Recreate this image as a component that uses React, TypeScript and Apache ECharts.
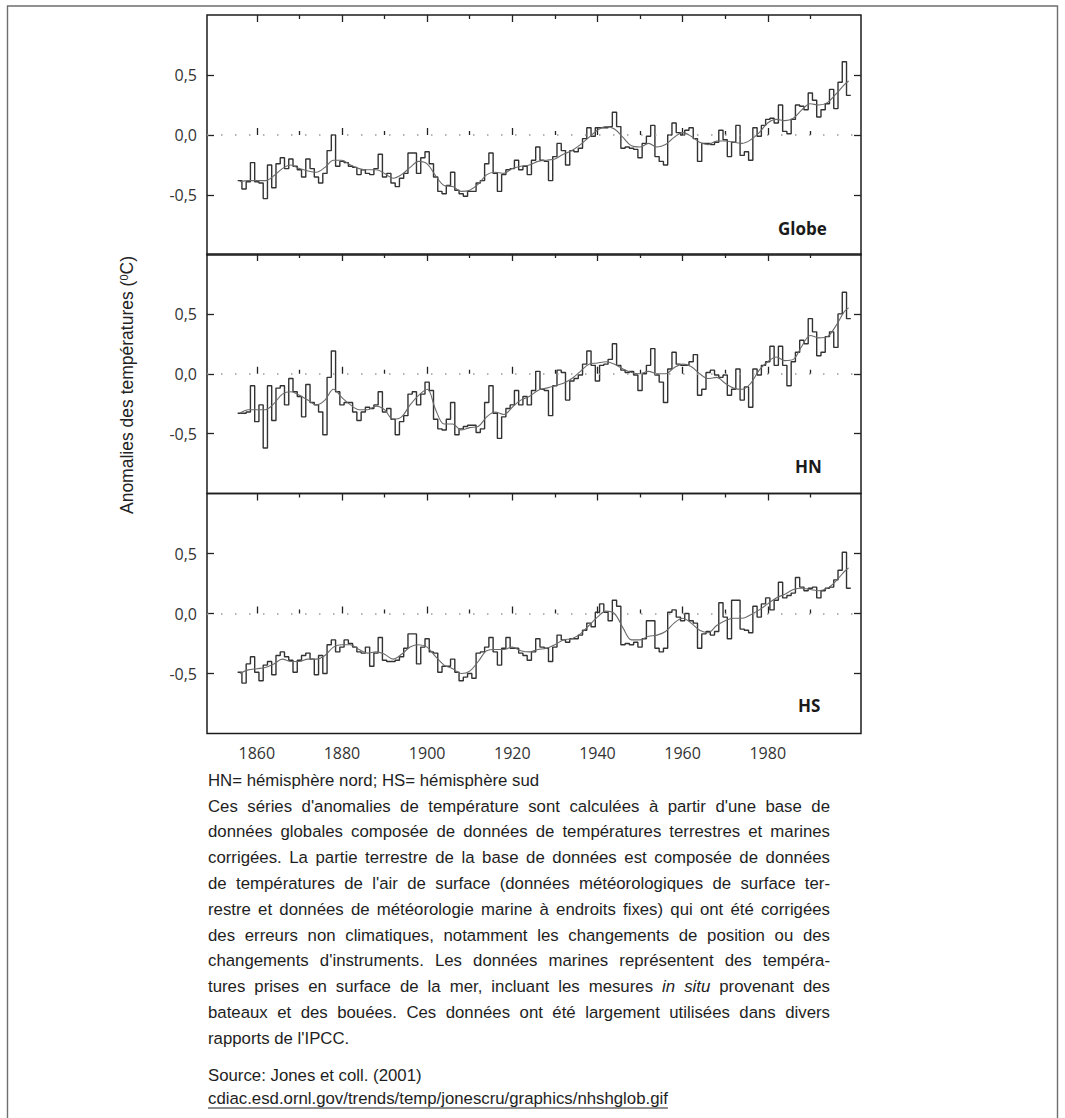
import React, { useEffect, useRef } from "react";
import * as echarts from "echarts";

// ---------- DATA ----------
const FIRST_YEAR = 1856;

const globeAnnual = [
  -0.38, -0.45, -0.39, -0.23, -0.39, -0.40, -0.53, -0.25, -0.44, -0.24,
  -0.19, -0.28, -0.20, -0.26, -0.29, -0.35, -0.20, -0.28, -0.35, -0.40,
  -0.32, -0.13, 0.00, -0.26, -0.22, -0.23, -0.26, -0.27, -0.33, -0.29,
  -0.32, -0.33, -0.28, -0.16, -0.35, -0.32, -0.40, -0.43, -0.36, -0.32,
  -0.15, -0.15, -0.32, -0.19, -0.14, -0.24, -0.35, -0.47, -0.49, -0.42,
  -0.31, -0.46, -0.49, -0.51, -0.47, -0.47, -0.40, -0.38, -0.24, -0.15,
  -0.32, -0.47, -0.33, -0.29, -0.28, -0.21, -0.29, -0.26, -0.33, -0.21,
  -0.10, -0.21, -0.22, -0.38, -0.18, -0.07, -0.13, -0.25, -0.13, -0.14,
  -0.11, -0.03, 0.06, -0.01, 0.06, 0.06, 0.06, 0.07, 0.19, 0.07,
  -0.11, -0.10, -0.11, -0.12, -0.19, -0.07, -0.01, 0.08, -0.18, -0.22,
  -0.25, 0.00, 0.10, 0.02, 0.00, 0.04, 0.06, -0.03, -0.22, -0.07,
  -0.07, -0.08, -0.06, 0.04, -0.04, -0.18, -0.06, 0.08, -0.17, -0.14,
  -0.21, 0.06, -0.01, 0.08, 0.13, 0.14, 0.10, 0.25, 0.03, 0.01,
  0.13, 0.25, 0.24, 0.21, 0.35, 0.29, 0.15, 0.21, 0.26, 0.38,
  0.22, 0.44, 0.61, 0.33,
];

const nhAnnual = [
  -0.33, -0.33, -0.32, -0.10, -0.40, -0.26, -0.62, -0.10, -0.39, -0.12,
  -0.10, -0.26, -0.04, -0.15, -0.19, -0.36, -0.09, -0.24, -0.26, -0.32,
  -0.51, -0.03, 0.19, -0.15, -0.26, -0.24, -0.24, -0.32, -0.39, -0.32,
  -0.28, -0.29, -0.26, -0.15, -0.32, -0.29, -0.38, -0.51, -0.40, -0.35,
  -0.17, -0.15, -0.26, -0.17, -0.07, -0.14, -0.38, -0.46, -0.47, -0.38,
  -0.24, -0.51, -0.46, -0.44, -0.43, -0.43, -0.49, -0.46, -0.24, -0.10,
  -0.33, -0.54, -0.36, -0.29, -0.26, -0.14, -0.26, -0.19, -0.26, -0.14,
  0.02, -0.13, -0.14, -0.35, -0.10, 0.03, 0.01, -0.22, -0.06, -0.04,
  -0.01, 0.08, 0.19, 0.07, -0.06, 0.07, 0.08, 0.12, 0.25, 0.07,
  0.03, 0.01, 0.02, -0.01, -0.14, 0.00, 0.07, 0.21, -0.01, -0.07,
  -0.24, 0.04, 0.18, 0.08, 0.07, 0.07, 0.10, 0.16, -0.18, -0.13,
  0.01, 0.03, -0.01, -0.03, -0.01, -0.18, -0.13, 0.04, -0.22, -0.11,
  -0.28, 0.04, -0.01, 0.07, 0.10, 0.23, 0.07, 0.23, 0.07, -0.10,
  0.10, 0.18, 0.28, 0.25, 0.46, 0.35, 0.15, 0.18, 0.31, 0.35,
  0.22, 0.50, 0.68, 0.46,
];

const shAnnual = [
  -0.49, -0.58, -0.42, -0.36, -0.49, -0.56, -0.43, -0.40, -0.51, -0.35,
  -0.32, -0.36, -0.39, -0.49, -0.39, -0.35, -0.33, -0.38, -0.51, -0.35,
  -0.50, -0.26, -0.22, -0.32, -0.28, -0.22, -0.25, -0.28, -0.32, -0.33,
  -0.28, -0.44, -0.33, -0.20, -0.39, -0.40, -0.40, -0.39, -0.36, -0.29,
  -0.17, -0.17, -0.42, -0.28, -0.21, -0.32, -0.33, -0.49, -0.44, -0.44,
  -0.38, -0.49, -0.56, -0.53, -0.50, -0.54, -0.33, -0.32, -0.28, -0.20,
  -0.32, -0.43, -0.29, -0.20, -0.29, -0.29, -0.33, -0.35, -0.39, -0.32,
  -0.21, -0.28, -0.29, -0.40, -0.28, -0.18, -0.22, -0.24, -0.21, -0.21,
  -0.18, -0.14, -0.08, -0.11, 0.01, 0.08, 0.01, -0.06, 0.11, 0.06,
  -0.26, -0.25, -0.26, -0.24, -0.28, -0.21, -0.06, -0.06, -0.29, -0.32,
  -0.29, 0.01, 0.03, -0.03, -0.06, 0.00, -0.06, -0.08, -0.29, -0.17,
  -0.15, -0.18, -0.15, 0.09, -0.03, -0.21, 0.11, 0.11, -0.13, -0.14,
  -0.16, 0.06, -0.03, 0.08, 0.13, 0.03, 0.11, 0.26, 0.13, 0.15,
  0.17, 0.30, 0.22, 0.19, 0.21, 0.22, 0.13, 0.19, 0.21, 0.22,
  0.28, 0.36, 0.51, 0.21,
];

// smoothed curves, read every second year (1856..1998) plus 1999
const SMOOTH_LAST_YEAR = 1999;
const globeSmooth = [
  -0.39, -0.38, -0.38, -0.38, -0.34, -0.28, -0.25, -0.28, -0.30, -0.31,
  -0.27, -0.21, -0.21, -0.25, -0.28, -0.29, -0.29, -0.32, -0.36, -0.33,
  -0.27, -0.22, -0.24, -0.34, -0.42, -0.43, -0.47, -0.46, -0.41, -0.33,
  -0.31, -0.32, -0.28, -0.26, -0.25, -0.22, -0.21, -0.20, -0.16, -0.13,
  -0.08, -0.02, 0.04, 0.07, 0.05, -0.02, -0.09, -0.10, -0.07, -0.10,
  -0.08, -0.02, 0.02, -0.01, -0.06, -0.08, -0.05, -0.05, -0.06, -0.07,
  -0.04, 0.02, 0.10, 0.13, 0.12, 0.14, 0.21, 0.26, 0.25, 0.27,
  0.34, 0.42, 0.45,
];
const nhSmooth = [
  -0.33, -0.30, -0.30, -0.30, -0.25, -0.17, -0.15, -0.18, -0.22, -0.26,
  -0.22, -0.13, -0.20, -0.26, -0.30, -0.30, -0.27, -0.30, -0.38, -0.36,
  -0.26, -0.18, -0.13, -0.30, -0.42, -0.42, -0.47, -0.45, -0.44, -0.36,
  -0.32, -0.34, -0.28, -0.22, -0.19, -0.14, -0.12, -0.10, -0.08, -0.04,
  0.02, 0.08, 0.09, 0.10, 0.08, 0.04, 0.01, 0.00, 0.02, 0.00,
  0.00, 0.05, 0.08, 0.06, 0.00, -0.04, -0.03, -0.08, -0.12, -0.13,
  -0.08, 0.03, 0.10, 0.14, 0.11, 0.12, 0.23, 0.32, 0.30, 0.31,
  0.40, 0.52, 0.55,
];
const shSmooth = [
  -0.50, -0.47, -0.46, -0.45, -0.42, -0.38, -0.40, -0.40, -0.38, -0.38,
  -0.35, -0.28, -0.26, -0.26, -0.30, -0.33, -0.32, -0.34, -0.38, -0.34,
  -0.28, -0.26, -0.28, -0.36, -0.43, -0.46, -0.50, -0.48, -0.40, -0.31,
  -0.30, -0.30, -0.28, -0.31, -0.32, -0.30, -0.29, -0.26, -0.22, -0.21,
  -0.17, -0.10, -0.03, 0.02, 0.00, -0.12, -0.22, -0.22, -0.19, -0.18,
  -0.15, -0.08, -0.04, -0.08, -0.14, -0.16, -0.10, -0.06, -0.04, -0.04,
  -0.01, 0.03, 0.08, 0.13, 0.16, 0.20, 0.21, 0.20, 0.19, 0.21,
  0.27, 0.35, 0.38,
];

const panelNames = ["Globe", "HN", "HS"];
const xMajorTicks = [1860, 1880, 1900, 1920, 1940, 1960, 1980];
const xMinorTicks = [1870, 1890, 1910, 1930, 1950, 1970, 1990];
const yTicks = [-0.5, 0, 0.5];

const captionHead = "HN= hémisphère nord; HS= hémisphère sud";
const captionLines = [
  "Ces séries d'anomalies de température sont calculées à partir d'une base de",
  "données globales composée de données de températures terrestres et marines",
  "corrigées. La partie terrestre de la base de données est composée de données",
  "de températures de l'air de surface (données météorologiques de surface ter-",
  "restre et données de météorologie marine à endroits fixes) qui ont été corrigées",
  "des erreurs non climatiques, notamment les changements de position ou des",
  "changements d'instruments. Les données marines représentent des tempéra-",
  "tures prises en surface de la mer, incluant les mesures {it|in situ} provenant des",
  "bateaux et des bouées. Ces données ont été largement utilisées dans divers",
  "rapports de l'IPCC.",
];
const sourceLine = "Source: Jones et coll. (2001)";
const linkLine = "cdiac.esd.ornl.gov/trends/temp/jonescru/graphics/nhshglob.gif";

// ---------- LAYOUT ----------
const X_MIN = 1848.3;
const X_MAX = 2001.9;
const GRID_LEFT = 207;
const GRID_WIDTH = 654;
const panelLayout = [
  { top: 15, height: 240, labelX: 778, labelY: 237 },
  { top: 254, height: 239.5, labelX: 795, labelY: 475 },
  { top: 493.5, height: 240, labelX: 798, labelY: 714 },
];

const AXIS_FONT = '"Open Sans", "DejaVu Sans", sans-serif';
const TEXT_FAMILY = '"Liberation Sans", Arial, sans-serif';
const CAPTION_SIZE = 16.8;
const TEXT_LEFT = 208;
const TEXT_RIGHT = 830;
const TEXT_COLOR = "#1e1e1e";

let measureCtx: CanvasRenderingContext2D | null = null;
function measure(text: string, font: string) {
  if (!measureCtx) measureCtx = document.createElement("canvas").getContext("2d");
  if (!measureCtx) return text.length * 8;
  measureCtx.font = font;
  return measureCtx.measureText(text).width;
}

function plainText(text: string, x: number, y: number): any {
  return {
    type: "text",
    x,
    y,
    style: {
      text,
      fontSize: CAPTION_SIZE,
      fontFamily: TEXT_FAMILY,
      fill: TEXT_COLOR,
      align: "left",
      verticalAlign: "middle",
      textAlign: "left",
      textVerticalAlign: "middle",
    },
  };
}

// a justified line: words placed with equal extra spacing
function justifiedLine(line: string, y: number, justify: boolean): any[] {
  const parts = line.split(/\{it\|([^}]*)\}/);
  const words: { w: string; italic: boolean }[] = [];
  parts.forEach((seg, idx) => {
    const italic = idx % 2 === 1;
    seg
      .split(" ")
      .filter((s) => s.length > 0)
      .forEach((w) => words.push({ w, italic }));
  });
  const fontOf = (it: boolean) => `${it ? "italic " : ""}${CAPTION_SIZE}px ${TEXT_FAMILY}`;
  const widths = words.map((o) => measure(o.w, fontOf(o.italic)));
  const total = widths.reduce((a, b) => a + b, 0);
  const natGap = measure(" ", fontOf(false));
  const gap = justify && words.length > 1 ? (TEXT_RIGHT - TEXT_LEFT - total) / (words.length - 1) : natGap;
  const out: any[] = [];
  let x = TEXT_LEFT;
  words.forEach((o, k) => {
    const el = plainText(o.w, x, y);
    if (o.italic) el.style.fontStyle = "italic";
    out.push(el);
    x += widths[k] + gap;
  });
  return out;
}

export default function App() {
  const ref = useRef<HTMLDivElement>(null);

  useEffect(() => {
    document.body.style.margin = "0";
    document.body.style.overflow = "hidden";
    if (!ref.current) return;
    const chart = echarts.init(ref.current, undefined, { renderer: "svg" });

    const annualSets = [globeAnnual, nhAnnual, shAnnual];
    const smoothSets = [globeSmooth, nhSmooth, shSmooth];

    const grids: any[] = [];
    const xAxes: any[] = [];
    const yAxes: any[] = [];
    const series: any[] = [];
    const tickStyle = { color: "#222", width: 1.3 };

    panelLayout.forEach((p, i) => {
      grids.push({
        left: GRID_LEFT,
        width: GRID_WIDTH,
        top: p.top,
        height: p.height,
        show: true,
        borderColor: "#1c1c1c",
        borderWidth: 1.5,
        backgroundColor: "transparent",
      });
      const baseX = {
        type: "value",
        gridIndex: i,
        min: X_MIN,
        max: X_MAX,
        axisLine: { show: false },
        splitLine: { show: false },
      };
      xAxes.push({
        ...baseX,
        position: "bottom",
        axisTick: { show: true, inside: true, length: 7, customValues: xMajorTicks, lineStyle: tickStyle },
        axisLabel: {
          show: i === 2,
          customValues: xMajorTicks,
          margin: 11,
          fontSize: 16,
          color: "#333",
          fontFamily: AXIS_FONT,
          formatter: (v: number) => String(Math.round(v)),
        },
      });
      xAxes.push({
        ...baseX,
        position: "bottom",
        axisTick: { show: true, inside: true, length: 4, customValues: xMinorTicks, lineStyle: tickStyle },
        axisLabel: { show: false },
      });
      xAxes.push({
        ...baseX,
        position: "top",
        axisTick: { show: true, inside: true, length: 7, customValues: xMajorTicks, lineStyle: tickStyle },
        axisLabel: { show: false },
      });
      xAxes.push({
        ...baseX,
        position: "top",
        axisTick: { show: true, inside: true, length: 4, customValues: xMinorTicks, lineStyle: tickStyle },
        axisLabel: { show: false },
      });
      const baseY = {
        type: "value",
        gridIndex: i,
        min: -1,
        max: 1,
        axisLine: { show: false },
        splitLine: { show: false },
      };
      yAxes.push({
        ...baseY,
        position: "left",
        axisTick: { show: true, inside: true, length: 7, customValues: yTicks, lineStyle: tickStyle },
        axisLabel: {
          show: true,
          customValues: yTicks,
          margin: 10,
          fontSize: 16,
          color: "#333",
          fontFamily: AXIS_FONT,
          formatter: (v: number) => v.toFixed(1).replace(".", ","),
        },
      });
      yAxes.push({
        ...baseY,
        position: "right",
        axisTick: { show: true, inside: true, length: 7, customValues: yTicks, lineStyle: tickStyle },
        axisLabel: { show: false },
      });

      const annual = annualSets[i];
      const stepData: number[][] = annual.map((v, k) => [FIRST_YEAR + k - 0.5, v]);
      stepData.push([FIRST_YEAR + annual.length - 0.5, annual[annual.length - 1]]);

      const smooth = smoothSets[i];
      const smoothData: number[][] = smooth.map((v, k) =>
        k === smooth.length - 1 ? [SMOOTH_LAST_YEAR, v] : [FIRST_YEAR + 2 * k, v]
      );

      series.push({
        type: "line",
        name: panelNames[i] + " annuel",
        xAxisIndex: 4 * i,
        yAxisIndex: 2 * i,
        step: "end",
        data: stepData,
        showSymbol: false,
        symbol: "none",
        lineStyle: { color: "#333", width: 1.4 },
        markLine: {
          silent: true,
          symbol: ["none", "none"],
          label: { show: false },
          lineStyle: { type: [1.5, 12.5], color: "#9a9a9a", width: 1.6 },
          data: [{ yAxis: 0 }],
        },
        z: 3,
      });
      series.push({
        type: "line",
        name: panelNames[i] + " lissé",
        xAxisIndex: 4 * i,
        yAxisIndex: 2 * i,
        smooth: 0.35,
        data: smoothData,
        showSymbol: false,
        symbol: "none",
        lineStyle: { color: "#6a6a6a", width: 1.1 },
        z: 4,
      });
    });

    const captionFont = `${CAPTION_SIZE}px ${TEXT_FAMILY}`;
    const graphics: any[] = [];

    // page frame
    graphics.push({
      type: "polyline",
      shape: { points: [[7.5, 1118], [7.5, 6], [1057.5, 6], [1057.5, 1118]] },
      style: { stroke: "#6e6e6e", lineWidth: 1.4, fill: "none" },
      silent: true,
    });

    // y-axis title
    graphics.push({
      type: "text",
      x: 127,
      y: 385,
      rotation: Math.PI / 2,
      style: {
        text: "Anomalies des températures ({sup|0}C)",
        fontSize: 17.5,
        fontFamily: TEXT_FAMILY,
        fill: "#222",
        align: "center",
        verticalAlign: "middle",
        textAlign: "center",
        textVerticalAlign: "middle",
        rich: {
          sup: { fontSize: 11, fontFamily: TEXT_FAMILY, fill: "#222", verticalAlign: "top" },
        },
      },
    });

    // panel labels
    panelLayout.forEach((p, i) => {
      graphics.push({
        type: "text",
        x: p.labelX,
        y: p.labelY,
        style: {
          text: panelNames[i],
          fontSize: 17,
          fontWeight: "bold",
          fontFamily: AXIS_FONT,
          fill: "#1a1a1a",
          align: "left",
          verticalAlign: "bottom",
          textAlign: "left",
          textVerticalAlign: "bottom",
        },
      });
    });

    graphics.push(plainText(captionHead, TEXT_LEFT, 780));
    captionLines.forEach((line, k) => {
      const justify = k < captionLines.length - 1;
      justifiedLine(line, 806 + 25.8 * k, justify).forEach((el) => graphics.push(el));
    });
    graphics.push(plainText(sourceLine, TEXT_LEFT, 1075));
    graphics.push(plainText(linkLine, TEXT_LEFT, 1098));
    const linkW = measure(linkLine, captionFont);
    graphics.push({
      type: "line",
      shape: { x1: TEXT_LEFT, y1: 1108, x2: TEXT_LEFT + linkW, y2: 1108 },
      style: { stroke: TEXT_COLOR, lineWidth: 1.2 },
      silent: true,
    });

    chart.setOption({
      animation: false,
      backgroundColor: "#ffffff",
      grid: grids,
      xAxis: xAxes,
      yAxis: yAxes,
      series,
      graphic: graphics,
    });

    return () => chart.dispose();
  }, []);

  return <div ref={ref} style={{ width: 1065, height: 1118 }} />;
}
